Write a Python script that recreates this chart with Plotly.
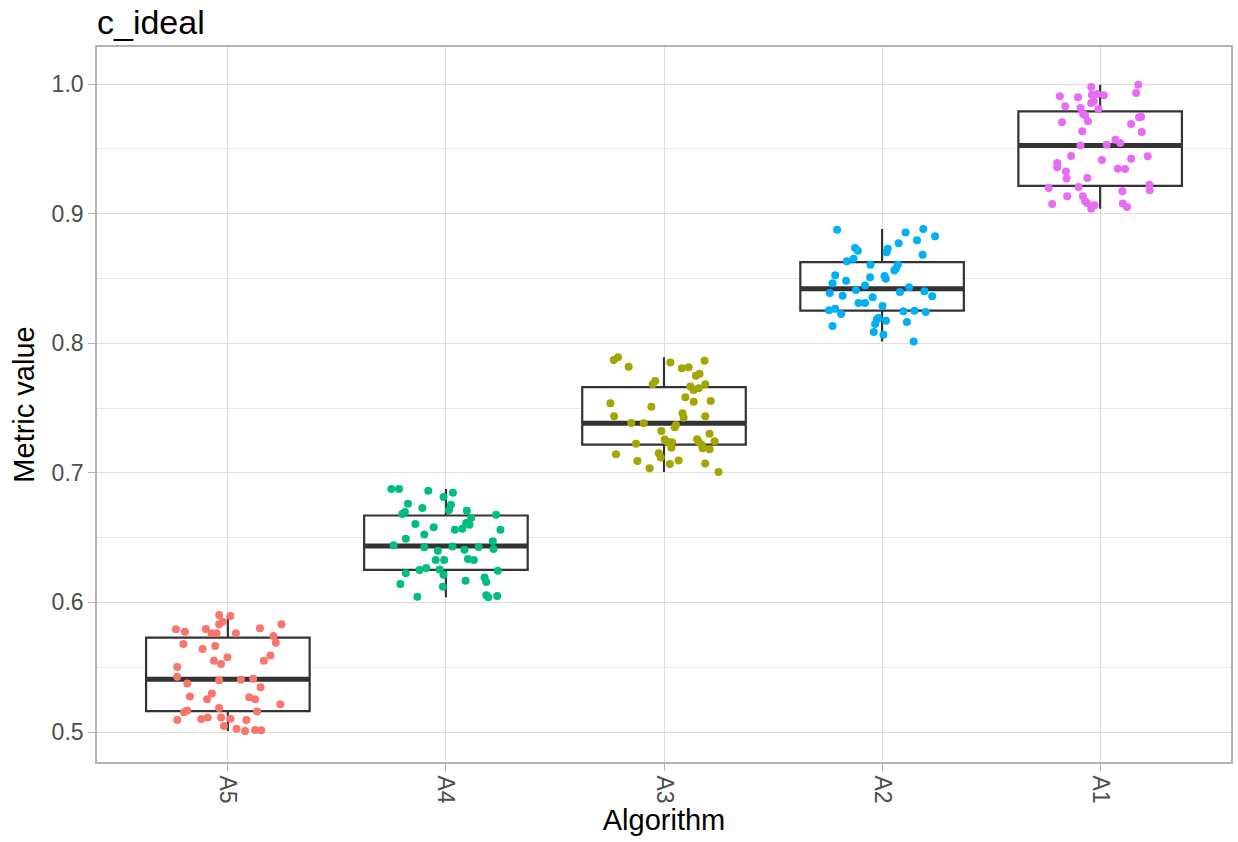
import numpy as np
import plotly.graph_objects as go

categories = ["A5", "A4", "A3", "A2", "A1"]
point_colors = ["#F8766D", "#00BF7D", "#A3A500", "#00B0F6", "#E76BF3"]

a5_values = [0.5903, 0.5895, 0.5851, 0.5831, 0.5792, 0.5774, 0.5795, 0.5761, 0.5761, 0.5761,
             0.5800, 0.5831, 0.5741, 0.5689, 0.5679, 0.5664, 0.5640, 0.5576, 0.5550, 0.5525,
             0.5591, 0.5550, 0.5501, 0.5427, 0.5399, 0.5375, 0.5411, 0.5345, 0.5298, 0.5252,
             0.5273, 0.5268, 0.5252, 0.5214, 0.5185, 0.5165, 0.5152, 0.5159, 0.5093, 0.5100,
             0.5111, 0.5111, 0.5103, 0.5093, 0.5046, 0.5026, 0.5008, 0.5015, 0.5013, 0.5404]
a5_jitter = [-0.040, 0.012, -0.024, -0.040, -0.238, -0.197, -0.101, -0.075, -0.052, 0.037,
             0.147, 0.246, 0.209, 0.220, -0.204, -0.058, -0.116, -0.002, -0.064, -0.031,
             0.195, 0.165, -0.232, -0.232, -0.040, -0.186, 0.116, 0.150, -0.073, -0.095,
             -0.174, 0.098, 0.125, 0.241, -0.040, -0.186, -0.201, 0.134, -0.232, -0.122,
             -0.092, -0.031, 0.012, 0.085, -0.018, 0.040, 0.079, 0.125, 0.153, 0.060]

a4_values = [0.6875, 0.6875, 0.6862, 0.6847, 0.6813, 0.6762, 0.6728, 0.6754, 0.6713, 0.6698,
             0.6682, 0.6708, 0.6677, 0.6651, 0.6605, 0.6579, 0.6613, 0.6600, 0.6569, 0.6561,
             0.6561, 0.6523, 0.6492, 0.6471, 0.6440, 0.6425, 0.6399, 0.6407, 0.6412, 0.6327,
             0.6327, 0.6335, 0.6327, 0.6250, 0.6265, 0.6253, 0.6214, 0.6245, 0.6224, 0.6193,
             0.6157, 0.6142, 0.6167, 0.6121, 0.6044, 0.6055, 0.6039, 0.6049, 0.6432, 0.6428]
a4_jitter = [-0.250, -0.215, -0.081, 0.032, -0.011, -0.174, -0.108, 0.023, 0.014, -0.188,
             -0.200, 0.096, 0.230, 0.116, -0.140, -0.056, 0.093, 0.108, 0.075, 0.041,
             0.250, -0.099, -0.184, 0.215, -0.240, -0.099, -0.037, 0.085, 0.218, -0.047,
             -0.008, 0.101, 0.128, -0.121, -0.090, -0.029, -0.011, 0.238, -0.184, 0.177,
             0.185, -0.209, 0.090, -0.014, -0.131, 0.185, 0.194, 0.235, 0.030, 0.150]

a3_values = [0.7870, 0.7891, 0.7819, 0.7852, 0.7806, 0.7814, 0.7865, 0.7749, 0.7765, 0.7708,
             0.7683, 0.7665, 0.7639, 0.7652, 0.7683, 0.7582, 0.7549, 0.7554, 0.7536, 0.7510,
             0.7459, 0.7425, 0.7436, 0.7436, 0.7382, 0.7369, 0.7351, 0.7322, 0.7302, 0.7225,
             0.7256, 0.7240, 0.7235, 0.7194, 0.7258, 0.7214, 0.7189, 0.7181, 0.7243, 0.7143,
             0.7150, 0.7119, 0.7091, 0.7094, 0.7068, 0.7071, 0.7035, 0.7006, 0.7240, 0.7384]
a3_jitter = [-0.230, -0.211, -0.162, 0.029, 0.082, 0.113, 0.186, 0.146, 0.163, -0.040,
             -0.052, 0.121, 0.136, 0.159, 0.189, 0.098, 0.136, 0.214, -0.246, -0.058,
             0.085, 0.090, 0.189, -0.229, -0.093, 0.055, 0.049, -0.012, 0.209, -0.128,
             0.003, 0.015, 0.037, 0.034, 0.152, 0.174, 0.177, 0.209, 0.232, -0.220,
             -0.024, -0.015, -0.122, 0.067, 0.027, 0.189, -0.066, 0.250, 0.159, -0.150]

a2_values = [0.8876, 0.8881, 0.8855, 0.8825, 0.8794, 0.8771, 0.8729, 0.8701, 0.8735, 0.8714,
             0.8683, 0.8652, 0.8632, 0.8606, 0.8606, 0.8575, 0.8560, 0.8524, 0.8508, 0.8518,
             0.8498, 0.8482, 0.8462, 0.8446, 0.8431, 0.8387, 0.8367, 0.8395, 0.8400, 0.8362,
             0.8354, 0.8310, 0.8310, 0.8287, 0.8254, 0.8266, 0.8225, 0.8246, 0.8251, 0.8241,
             0.8164, 0.8182, 0.8194, 0.8174, 0.8148, 0.8133, 0.8086, 0.8066, 0.8014, 0.8410]
a2_jitter = [-0.206, 0.189, 0.108, 0.243, 0.160, 0.076, 0.026, 0.021, -0.124, -0.111,
             0.186, -0.131, -0.162, -0.053, 0.072, 0.063, 0.056, -0.215, -0.055, 0.011,
             0.017, -0.165, -0.227, -0.078, 0.124, -0.240, -0.181, 0.082, 0.194, 0.230,
             -0.043, -0.108, -0.078, 0.002, -0.243, -0.215, -0.188, 0.098, 0.148, 0.200,
             0.114, -0.024, -0.017, 0.018, -0.032, -0.227, -0.038, 0.006, 0.145, -0.120]

a1_values = [0.9995, 0.9977, 0.9931, 0.9905, 0.9897, 0.9918, 0.9923, 0.9913, 0.9853, 0.9866,
             0.9828, 0.9815, 0.9808, 0.9769, 0.9758, 0.9743, 0.9748, 0.9691, 0.9704, 0.9712,
             0.9635, 0.9630, 0.9570, 0.9545, 0.9526, 0.9444, 0.9414, 0.9424, 0.9442, 0.9390,
             0.9357, 0.9347, 0.9344, 0.9324, 0.9270, 0.9275, 0.9198, 0.9205, 0.9223, 0.9180,
             0.9172, 0.9133, 0.9133, 0.9095, 0.9082, 0.9074, 0.9077, 0.9051, 0.9064, 0.9038,
             0.9532]
a1_jitter = [0.175, -0.041, 0.165, -0.185, -0.102, -0.038, -0.014, 0.017, -0.041, -0.029,
             -0.160, -0.090, -0.008, -0.078, -0.069, 0.178, 0.188, 0.142, -0.175, -0.056,
             -0.082, 0.191, 0.070, 0.092, -0.090, -0.133, 0.008, 0.142, 0.218, -0.197,
             -0.197, 0.081, 0.114, -0.157, -0.154, -0.059, -0.236, -0.099, 0.226, 0.227,
             0.102, -0.151, -0.079, -0.069, -0.060, -0.220, 0.104, 0.123, -0.026, -0.041,
             0.030]

y_ticks = [0.5, 0.6, 0.7, 0.8, 0.9, 1.0]
y_tick_labels = ["0.5", "0.6", "0.7", "0.8", "0.9", "1.0"]

groups_values = [a5_values, a4_values, a3_values, a2_values, a1_values]
groups_jitter = [a5_jitter, a4_jitter, a3_jitter, a2_jitter, a1_jitter]

FONT = "Liberation Sans, Arial, sans-serif"
BOX_W = 0.75
BOX_LINE = "#333333"

fig = go.Figure()

# Boxes (quartiles computed from the data, ggplot-style type-7 quantiles)
for i, vals in enumerate(groups_values):
    v = np.array(vals)
    q1, med, q3 = np.quantile(v, [0.25, 0.5, 0.75])
    iqr = q3 - q1
    lo = v[v >= q1 - 1.5 * iqr].min()
    hi = v[v <= q3 + 1.5 * iqr].max()
    fig.add_trace(go.Box(
        x=[i], q1=[q1], median=[med], q3=[q3], lowerfence=[lo], upperfence=[hi],
        width=BOX_W, whiskerwidth=0, fillcolor="white",
        line=dict(color=BOX_LINE, width=2.2), boxpoints=False,
        showlegend=False, hoverinfo="skip",
    ))

# Thick median lines
for i, vals in enumerate(groups_values):
    med = float(np.median(vals))
    fig.add_trace(go.Scatter(
        x=[i - BOX_W / 2, i + BOX_W / 2], y=[med, med], mode="lines",
        line=dict(color=BOX_LINE, width=5), showlegend=False, hoverinfo="skip",
    ))

# Jittered points
for i, (vals, jit) in enumerate(zip(groups_values, groups_jitter)):
    fig.add_trace(go.Scatter(
        x=[i + j for j in jit], y=vals, mode="markers",
        marker=dict(color=point_colors[i], size=8, line=dict(width=0)),
        showlegend=False, hoverinfo="skip",
    ))

axis_common = dict(
    showline=True, linecolor="#B3B3B3", linewidth=1.6, mirror=True,
    ticks="outside", ticklen=7, tickcolor="#B3B3B3", tickwidth=1.3,
    showgrid=True, gridcolor="#DEDEDE", gridwidth=1.1, zeroline=False,
    tickfont=dict(family=FONT, size=23, color="#4D4D4D"),
)

fig.update_layout(
    width=1238, height=842,
    margin=dict(l=97, r=5, t=47, b=80),
    paper_bgcolor="white", plot_bgcolor="white",
    font=dict(family=FONT),
    title=dict(text="c_ideal", font=dict(family=FONT, size=34, color="black"),
               x=97 / 1238, xanchor="left", xref="container",
               y=1 - 22 / 842, yanchor="middle", yref="container"),
    xaxis=dict(
        axis_common, range=[-0.6, 4.6],
        tickmode="array", tickvals=list(range(len(categories))), ticktext=categories,
        tickangle=90,
        title=dict(text="Algorithm", font=dict(family=FONT, size=29, color="black"), standoff=6),
    ),
    yaxis=dict(
        axis_common, range=[0.47685, 1.02855],
        tickmode="array", tickvals=y_ticks, ticktext=y_tick_labels,
        minor=dict(dtick=0.1, tick0=0.05, showgrid=True, gridcolor="#E8E8E8", gridwidth=0.6, ticks=""),
        title=dict(text="Metric value", font=dict(family=FONT, size=29, color="black"), standoff=8),
    ),
)

fig.write_html(
    "out.html",
    config={"displayModeBar": False},
    post_script="document.body.style.margin='0';document.body.style.overflow='hidden';",
)
